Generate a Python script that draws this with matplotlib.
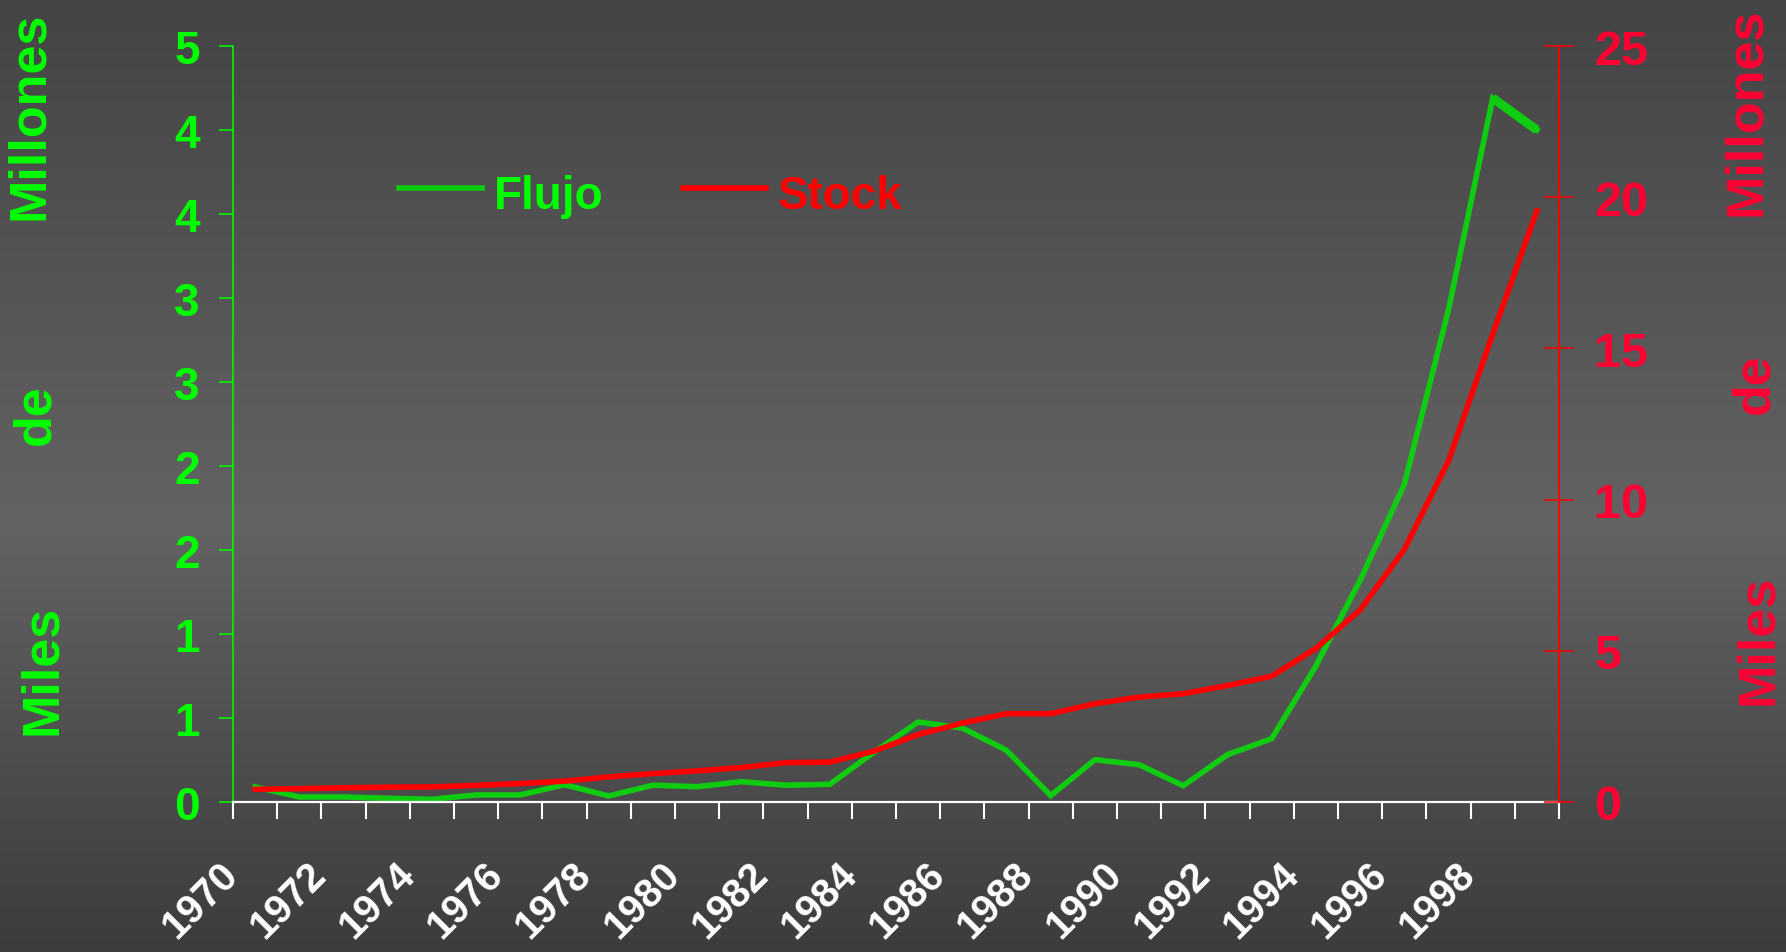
import numpy as np
import matplotlib.pyplot as plt

# data
years = list(range(1970, 2000))
flujo = [0.09, 0.03, 0.03, 0.022, 0.016, 0.042, 0.042, 0.103, 0.036, 0.10,
         0.091, 0.121, 0.10, 0.105, 0.296, 0.476, 0.44, 0.308, 0.038, 0.252,
         0.222, 0.097, 0.282, 0.377, 0.81, 1.32, 1.89, 2.93, 4.19, 4.00]
stock = [0.42, 0.44, 0.47, 0.49, 0.50, 0.55, 0.61, 0.69, 0.83, 0.94,
         1.03, 1.14, 1.30, 1.32, 1.68, 2.23, 2.61, 2.92, 2.92, 3.25,
         3.47, 3.58, 3.85, 4.16, 5.08, 6.35, 8.35, 11.28, 15.47, 19.55]
left_ticks = [0, 0.5, 1.0, 1.5, 2.0, 2.5, 3.0, 3.5, 4.0, 4.5]
left_labels = ['0', '1', '1', '2', '2', '3', '3', '4', '4', '5']
right_ticks = [0, 5, 10, 15, 20, 25]
year_labels = [str(y) for y in years[::2]]

FONT = ['Liberation Sans', 'DejaVu Sans']
GREEN_TXT = '#00ff00'
RED_TXT = '#ff0033'
GREEN_LINE = '#10cc10'

W, H = 1786, 953
fig = plt.figure(figsize=(W / 100, H / 100), dpi=100)

# grey vertical gradient background
bg = fig.add_axes([0, 0, 1, 1], zorder=0)
g = np.interp(np.linspace(0, 1, 400), [0, 0.55, 1], [0x44, 0x63, 0x3c]) / 255
bg.imshow(np.repeat(g[:, None, None], 3, axis=2), aspect='auto',
          extent=[0, 1, 0, 1])
bg.axis('off')

ax = fig.add_axes([233 / W, 1 - 803 / H, (1559 - 233) / W, (803 - 47) / H],
                  zorder=1)
ax.patch.set_visible(False)
x = np.arange(len(years))
ax.plot(x, flujo, color=GREEN_LINE, lw=4.0, solid_joinstyle='miter')
# last segment is drawn heavier in the original
ax.plot(x[-2:], flujo[-2:], color=GREEN_LINE, lw=6.5, solid_capstyle='butt')
ax.set_xlim(-0.5, len(years) - 0.5)
ax.set_ylim(0, 4.5)

ax2 = ax.twinx()
ax2.plot(x, stock, color='red', lw=4.0, solid_joinstyle='miter')
ax2.set_ylim(0, 25)

for s in ['top', 'right']:
    ax.spines[s].set_visible(False)
ax.spines['left'].set_color(GREEN_TXT)
ax.spines['left'].set_linewidth(1.1)
ax.spines['bottom'].set_color('white')
ax.spines['bottom'].set_linewidth(1.6)
for s in ['top', 'left', 'bottom']:
    ax2.spines[s].set_visible(False)
ax2.spines['right'].set_color('red')
ax2.spines['right'].set_linewidth(1.3)

# category boundaries as ticks, labels drawn separately
ax.set_xticks(np.arange(-0.5, len(years), 1))
ax.set_xticklabels([])
ax.tick_params(axis='x', colors='white', length=12, width=1.5, direction='out')

ax.set_yticks(left_ticks, left_labels)
ax.tick_params(axis='y', colors=GREEN_TXT, length=10, width=1.1,
               direction='out', pad=14, labelsize=33)
for t in ax.get_yticklabels():
    t.set_fontfamily(FONT)
    t.set_fontweight('bold')

ax2.set_yticks(right_ticks)
ax2.tick_params(axis='y', color='red', labelcolor=RED_TXT, length=21,
                width=1.1, direction='inout', pad=15, labelsize=35)
for t in ax2.get_yticklabels():
    t.set_fontfamily(FONT)
    t.set_fontweight('bold')

for i, lab in zip(x[::2], year_labels):
    ax.annotate(lab, xy=(i - 0.5, 0), xycoords=('data', 'axes fraction'),
                xytext=(-10.6, -38), textcoords='offset points',
                ha='right', va='top', rotation=45, rotation_mode='anchor',
                color='white', fontsize=29, fontweight='bold',
                fontfamily=FONT)

# legend
fig.add_artist(plt.Line2D([399 / W, 482 / W], [1 - 189 / H] * 2,
                          color=GREEN_LINE, lw=4.0))
fig.text(494 / W, 1 - 209 / H, 'Flujo', color=GREEN_TXT, fontsize=33,
         fontweight='bold', fontfamily=FONT, va='baseline')
fig.add_artist(plt.Line2D([683 / W, 766 / W], [1 - 189 / H] * 2,
                          color='red', lw=4.0))
fig.text(778 / W, 1 - 209 / H, 'Stock', color='red', fontsize=33,
         fontweight='bold', fontfamily=FONT, va='baseline')

# axis titles spread along the height
for word, (cx, cy) in zip(['Millones', 'de', 'Miles'],
                          [(30, 116), (36, 415), (42, 670)]):
    fig.text(cx / W, 1 - cy / H, word, color=GREEN_TXT, fontsize=37.5,
             fontweight='bold', fontfamily=FONT, rotation=90,
             ha='center', va='center')
for word, (cx, cy) in zip(['Millones', 'de', 'Miles'],
                          [(1747, 112), (1755, 384), (1759, 640)]):
    fig.text(cx / W, 1 - cy / H, word, color=RED_TXT, fontsize=37.5,
             fontweight='bold', fontfamily=FONT, rotation=90,
             ha='center', va='center')

fig.savefig('out.png', dpi=100)
